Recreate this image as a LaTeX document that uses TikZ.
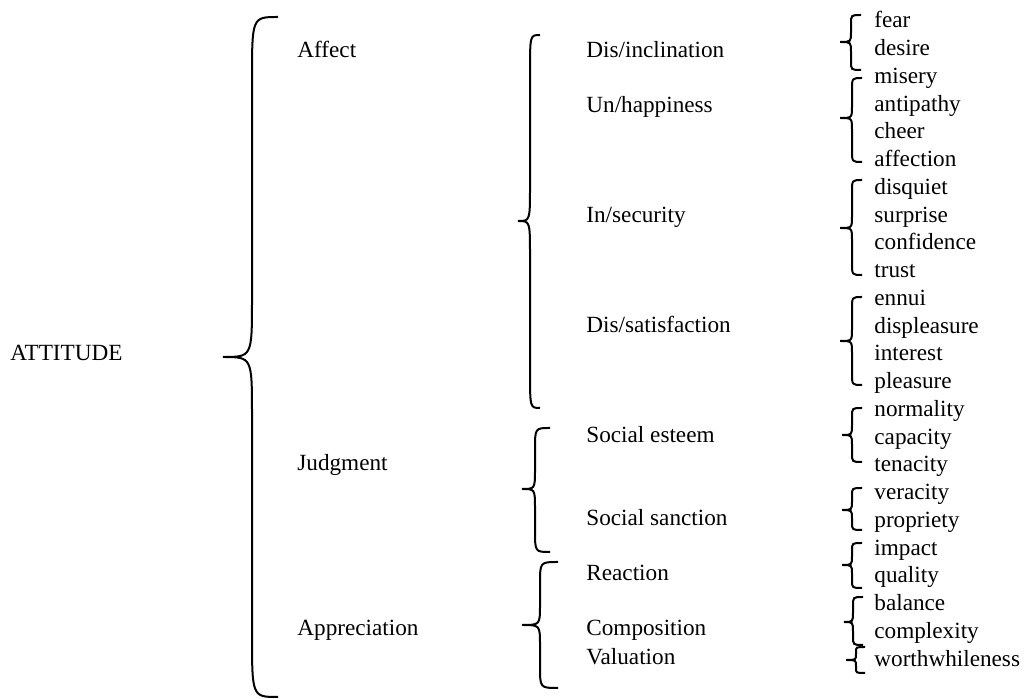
\documentclass[tikz,border=0pt]{standalone}
\usepackage{fontspec}
\setmainfont{Liberation Serif}
% curly bracket: x end, x stem, x tip, y top, y tip, y bottom, end radius, tip radius
\newcommand{\curlybrace}[8]{%
  \draw[brace line] (#1,#4) .. controls (#2,#4) .. (#2,#4+#7) -- (#2,#5-#8)
    .. controls (#2,#5) .. (#3,#5) .. controls (#2,#5) .. (#2,#5+#8)
    -- (#2,#6-#7) .. controls (#2,#6) .. (#1,#6);}
\tikzset{
  brace line/.style={line width=1pt},
  lbl/.style={anchor=base west,inner sep=0pt,font=\fontsize{11.6}{14}\selectfont}
}
\begin{document}
\begin{tikzpicture}[x=0.5pt,y=-0.5pt]
    \useasboundingbox (0,0) rectangle (1024,699);

    % root
    \node[lbl] (attitude) at (10,361) {ATTITUDE};
    \curlybrace{278}{252}{223}{17}{357}{697}{64}{58}

    % second level
    \node[lbl] (affect) at (297,58) {Affect};
    \node[lbl] (judgment) at (297,471) {Judgment};
    \node[lbl] (appreciation) at (297,636) {Appreciation};

    \curlybrace{540}{530}{518}{35}{221}{408}{38}{34}
    \curlybrace{550}{535}{522}{428}{489}{552}{22}{20}
    \curlybrace{558}{540}{522}{562}{625}{688}{22}{20}

    % third level
    \node[lbl] (inclination) at (586,58) {Dis/inclination};
    \node[lbl] (happiness) at (586,113) {Un/happiness};
    \node[lbl] (security) at (586,223) {In/security};
    \node[lbl] (satisfaction) at (586,333) {Dis/satisfaction};
    \node[lbl] (esteem) at (586,443) {Social esteem};
    \node[lbl] (sanction) at (586,526) {Social sanction};
    \node[lbl] (reaction) at (586,581) {Reaction};
    \node[lbl] (composition) at (586,636) {Composition};
    \node[lbl] (valuation) at (586,665) {Valuation};

    % terms
    \foreach \w [count=\i from 0] in {fear,desire,misery,antipathy,cheer,affection,
        disquiet,surprise,confidence,trust,ennui,displeasure,interest,pleasure,
        normality,capacity,tenacity,veracity,propriety,impact,quality,balance,
        complexity,worthwhileness}
        \node[lbl] (w\i) at (874,28+\i*27.74) {\w};

    \curlybrace{861}{851}{840}{15}{42}{70}{9}{10}
    \curlybrace{862}{852}{840}{78}{118}{162}{12}{12}
    \curlybrace{862}{852}{840}{180}{228}{275}{12}{12}
    \curlybrace{862}{852}{840}{297}{341}{385}{12}{12}
    \curlybrace{862}{852}{842}{408}{435}{462}{9}{10}
    \curlybrace{862}{852}{842}{488}{510}{530}{8}{9}
    \curlybrace{862}{852}{842}{543}{565}{588}{8}{9}
    \curlybrace{863}{853}{844}{597}{622}{645}{9}{10}
    \curlybrace{865}{856}{846}{647}{660}{673}{5}{6}
\end{tikzpicture}
\end{document}
